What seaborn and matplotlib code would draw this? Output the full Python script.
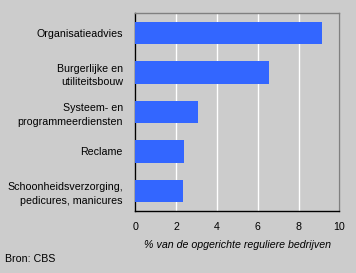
import matplotlib
matplotlib.use("Agg")
import matplotlib.pyplot as plt
import seaborn as sns
import pandas as pd

categories = ["Organisatieadvies", "Burgerlijke en\nutiliteitsbouw", "Systeem- en\nprogrammeerdiensten",
              "Reclame", "Schoonheidsverzorging,\npedicures, manicures"]
values = [9.15, 6.55, 3.07, 2.38, 2.34]
xticks = [0, 2, 4, 6, 8, 10]
xlabel = "% van de opgerichte reguliere bedrijven"
source = "Bron: CBS"

sns.set_style("white")
plt.rcParams['font.family'] = ['Liberation Sans', 'DejaVu Sans']
plt.rcParams['text.color'] = 'black'
plt.rcParams['axes.labelcolor'] = 'black'
plt.rcParams['xtick.color'] = 'black'
plt.rcParams['ytick.color'] = 'black'

fs = 7.7
df = pd.DataFrame({"cat": categories, "val": values})
bg = "#cccccc"
fig = plt.figure(figsize=(3.56, 2.73), dpi=100, facecolor=bg)
ax = fig.add_axes([135.3/356, 1-210.7/273, (339.3-135.3)/356, (210.7-13.3)/273])
ax.set_facecolor(bg)
sns.barplot(data=df, x="val", y="cat", color="#3366ff", width=0.57, saturation=1,
            linewidth=0, edgecolor="none", ax=ax, zorder=3)
ax.set_xlim(0, 10)
ax.set_xticks(xticks)
ax.set_xticklabels([str(t) for t in xticks], fontsize=fs)
ax.set_ylabel("")
ax.set_xlabel(xlabel, fontsize=fs, style="italic", labelpad=6, color="black")
ax.xaxis.grid(True, color="white", linewidth=1, zorder=0)
ax.set_axisbelow(True)
ax.tick_params(axis="y", length=0, labelsize=fs, pad=9, labelcolor="black")
ax.tick_params(axis="x", length=4, width=1, color="black", direction="out", pad=4, labelcolor="black")
for lbl in ax.get_yticklabels():
    lbl.set_multialignment("right")
    lbl.set_linespacing(1.45)
ax.spines["left"].set_color("black")
ax.spines["bottom"].set_color("black")
ax.spines["top"].set_color("#808080")
ax.spines["right"].set_color("#808080")
for s in ax.spines.values():
    s.set_linewidth(1)
    s.set_visible(True)
fig.text(5/356, 1-259/273, source, fontsize=fs, va="center", ha="left", color="black")
fig.savefig("out.png", dpi=100, facecolor=bg)
